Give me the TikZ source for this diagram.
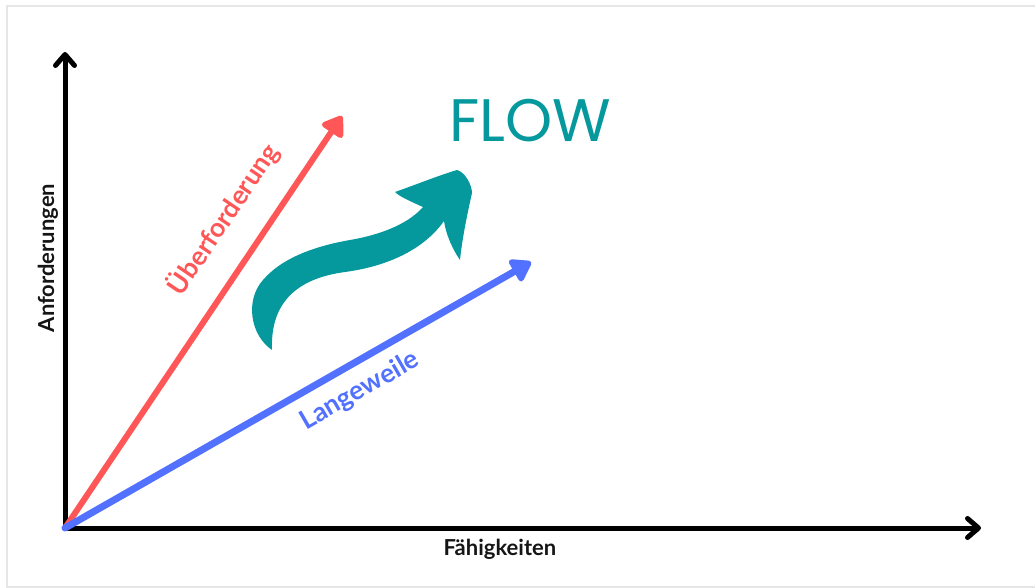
\documentclass[tikz,border=0pt]{standalone}
\usepackage{fontspec}
\setmainfont{Lato}
\newfontfamily\flowfont{Poppins}
\usetikzlibrary{arrows.meta}
\definecolor{redA}{HTML}{FF5757}
\definecolor{blueA}{HTML}{5271FF}
\definecolor{tealA}{HTML}{05999E}
\definecolor{axisA}{HTML}{000000}
\definecolor{labA}{HTML}{151515}
\definecolor{frameA}{HTML}{E6E6E6}
\tikzset{
  axisline/.style={draw=axisA, line width=5pt, line cap=round, line join=round,
    {Straight Barb[length=11pt,width=19pt,round]}-{Straight Barb[length=11pt,width=19pt,round]}},
  trendline/.style={line width=6pt, line cap=round, -{Triangle[length=22pt,width=28pt,round]}},
  axislabel/.style={font=\fontsize{22}{24}\selectfont\bfseries, text=labA, inner sep=0pt},
  trendlabel/.style={font=\fontsize{26.5}{28}\selectfont\bfseries, inner sep=0pt},
}
\begin{document}
\begin{tikzpicture}[x=1pt,y=-1pt]
\useasboundingbox (0,0) rectangle (1035,588);
\draw[frameA, line width=1.5pt] (7,6) rectangle (1045,587);
\coordinate (O) at (65,528);
\coordinate (ytop) at (65,52);
\coordinate (xend) at (981,528);
\coordinate (redtip) at (342,116);
\coordinate (bluetip) at (531,262);
\draw[axisline] (ytop) -- (O) -- (xend);
\draw[trendline, redA] (O) -- (redtip);
\draw[trendline, blueA, line width=7pt] (O) -- (bluetip);
\node[axislabel, anchor=base] (faeh) at (500,555) {Fähigkeiten};
\node[axislabel, anchor=base, rotate=90] (anf) at (54,258) {Anforderungen};
\node[trendlabel, text=redA, rotate=56] (ueber) at (223,219) {Überforderung};
\node[trendlabel, text=blueA, rotate=30] (lang) at (360,391) {Langeweile};
\node[font=\fontsize{60}{62}\selectfont\flowfont, text=tealA, anchor=base, inner sep=0pt] (flow) at (530,142) {FLOW};
\fill[tealA] (272,350)
  .. controls (250,335) and (245,300) .. (263,280)
  .. controls (280,260) and (310,247) .. (350,240)
  .. controls (385,234) and (410,222) .. (423,207)
  .. controls (412,202) and (400,197) .. (395,192)
  .. controls (415,185) and (440,175) .. (457,170)
  .. controls (465,172) and (472,185) .. (472,193)
  .. controls (467,215) and (462,240) .. (460,260)
  .. controls (453,250) and (446,235) .. (444,221)
  .. controls (425,248) and (390,266) .. (345,272)
  .. controls (300,278) and (270,300) .. (272,350)
  -- cycle;
\end{tikzpicture}
\end{document}
